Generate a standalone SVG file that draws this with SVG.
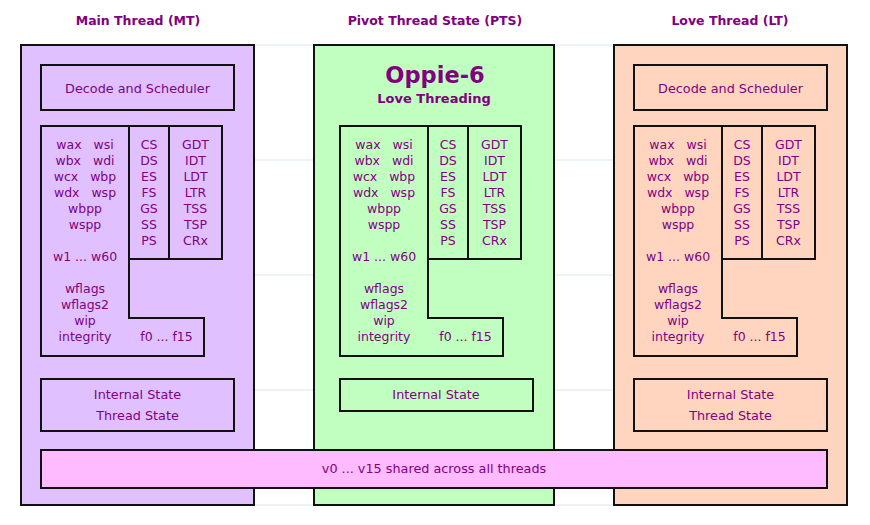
<svg xmlns="http://www.w3.org/2000/svg" width="870" height="525" viewBox="0 0 870 525">
<style>
text{font-family:"DejaVu Sans","Liberation Sans",sans-serif;fill:#800080;text-anchor:middle;font-size:12.5px}
.lbl{font-size:12.8px}
.h{font-weight:bold;font-size:12.5px}
.big{font-weight:bold;font-size:22.5px}
.sub{font-weight:bold;font-size:13px}
.box{stroke:#111;stroke-width:2}
.mt{fill:#e0c0ff}.pts{fill:#c0ffc0}.lt{fill:#ffd5c0}
.ln{fill:none;stroke:#111;stroke-width:2}
.conn{stroke:#dce7e7;stroke-width:1.2}
</style>
<defs>
<g id="regs">
<path class="ln" d="M41,126 H222 V259 H129 V318 H204 V356 H41 Z M129,126 V259 M169,126 V259"/>
<text x="85" y="148.5" xml:space="preserve">wax   wsi</text>
<text x="85" y="164.5" xml:space="preserve">wbx   wdi</text>
<text x="85" y="180.5" xml:space="preserve">wcx   wbp</text>
<text x="85" y="196.5" xml:space="preserve">wdx   wsp</text>
<text x="85" y="212.5">wbpp</text>
<text x="85" y="228.5">wspp</text>
<text x="85" y="260.5">w1 ... w60</text>
<text x="85" y="292.5">wflags</text>
<text x="85" y="308.5">wflags2</text>
<text x="85" y="324.5">wip</text>
<text x="85" y="340.5">integrity</text>
<text x="166.5" y="340.5">f0 ... f15</text>
<text x="149" y="148.5">CS</text>
<text x="149" y="164.5">DS</text>
<text x="149" y="180.5">ES</text>
<text x="149" y="196.5">FS</text>
<text x="149" y="212.5">GS</text>
<text x="149" y="228.5">SS</text>
<text x="149" y="244.5">PS</text>
<text x="195.5" y="148.5">GDT</text>
<text x="195.5" y="164.5">IDT</text>
<text x="195.5" y="180.5">LDT</text>
<text x="195.5" y="196.5">LTR</text>
<text x="195.5" y="212.5">TSS</text>
<text x="195.5" y="228.5">TSP</text>
<text x="195.5" y="244.5">CRx</text>
</g>
</defs>
<g id="connectors">
<line class="conn" x1="254" y1="45" x2="314" y2="45"/>
<line class="conn" x1="254" y1="160" x2="314" y2="160"/>
<line class="conn" x1="254" y1="275" x2="314" y2="275"/>
<line class="conn" x1="254" y1="390" x2="314" y2="390"/>
<line class="conn" x1="254" y1="505" x2="314" y2="505"/>
<line class="conn" x1="554" y1="45" x2="614" y2="45"/>
<line class="conn" x1="554" y1="160" x2="614" y2="160"/>
<line class="conn" x1="554" y1="275" x2="614" y2="275"/>
<line class="conn" x1="554" y1="390" x2="614" y2="390"/>
<line class="conn" x1="554" y1="505" x2="614" y2="505"/>
</g>
<g id="main-thread">
<text class="h" x="138" y="25">Main Thread (MT)</text>
<rect class="box mt" x="21" y="45" width="233" height="460"/>
<g id="mt-decode"><rect class="box mt" x="41" y="65" width="193" height="45"/><text class="lbl" x="137.5" y="92.5">Decode and Scheduler</text></g>
<g id="mt-regs"><use href="#regs"/></g>
<g id="mt-state"><rect class="box mt" x="41" y="379" width="193" height="52"/><text class="lbl" x="137.5" y="399">Internal State</text><text class="lbl" x="137.5" y="420">Thread State</text></g>
</g>
<g id="pivot-thread-state">
<text class="h" x="435" y="25">Pivot Thread State (PTS)</text>
<rect class="box pts" x="314" y="45" width="240" height="460"/>
<text class="big" x="435" y="83">Oppie-6</text>
<text class="sub" x="434" y="103">Love Threading</text>
<g id="pts-regs"><use href="#regs" x="299"/></g>
<g id="pts-state"><rect class="box pts" x="340" y="379" width="193" height="32"/><text class="lbl" x="436" y="399">Internal State</text></g>
</g>
<g id="love-thread">
<text class="h" x="730" y="25">Love Thread (LT)</text>
<rect class="box lt" x="614" y="45" width="233" height="460"/>
<g id="lt-decode"><rect class="box lt" x="634" y="65" width="193" height="45"/><text class="lbl" x="730.5" y="92.5">Decode and Scheduler</text></g>
<g id="lt-regs"><use href="#regs" x="593"/></g>
<g id="lt-state"><rect class="box lt" x="634" y="379" width="193" height="52"/><text class="lbl" x="730.5" y="399">Internal State</text><text class="lbl" x="730.5" y="420">Thread State</text></g>
</g>
<g id="shared-vregs">
<rect class="box" fill="#ffbbff" x="41" y="450" width="786" height="38"/>
<text class="lbl" x="434" y="472.5">v0 ... v15 shared across all threads</text>
</g>
</svg>
